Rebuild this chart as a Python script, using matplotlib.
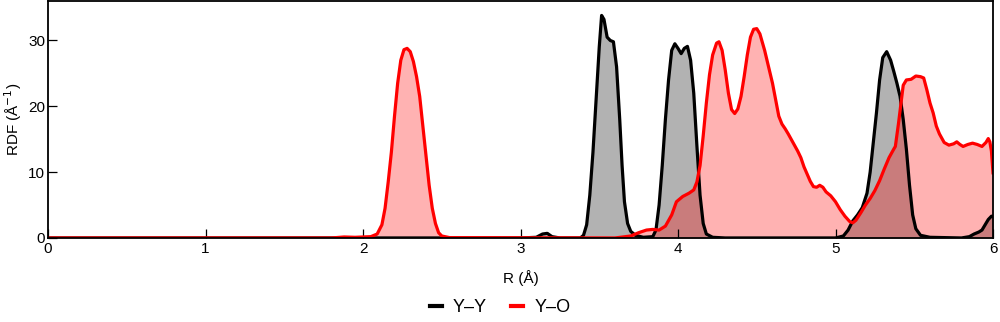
import numpy as np
import matplotlib
matplotlib.use("Agg")
import matplotlib.pyplot as plt

plt.rcParams["font.family"] = ["Liberation Sans", "DejaVu Sans"]

# =========================
# Data
# =========================
r_yo = [0.0, 1.80, 1.88, 1.95, 2.05, 2.09, 2.12, 2.14, 2.16, 2.18, 2.20, 2.22, 2.24, 2.26,
        2.28, 2.30, 2.32, 2.34, 2.36, 2.38, 2.40, 2.42, 2.44, 2.46, 2.48, 2.50, 2.55, 3.60,
        3.70, 3.75, 3.80, 3.84, 3.88, 3.92, 3.96, 3.99, 4.03, 4.07, 4.10, 4.12, 4.14, 4.16,
        4.18, 4.20, 4.22, 4.245, 4.26, 4.28, 4.30, 4.32, 4.34, 4.36, 4.38, 4.40, 4.42, 4.44,
        4.46, 4.48, 4.50, 4.52, 4.55, 4.58, 4.60, 4.62, 4.64, 4.66, 4.68, 4.70, 4.73, 4.76,
        4.78, 4.80, 4.82, 4.84, 4.86, 4.88, 4.90, 4.92, 4.94, 4.97, 5.00, 5.03, 5.06, 5.09,
        5.11, 5.13, 5.16, 5.19, 5.22, 5.25, 5.28, 5.31, 5.34, 5.37, 5.38, 5.40, 5.43, 5.45,
        5.48, 5.51, 5.54, 5.56, 5.58, 5.60, 5.62, 5.64, 5.66, 5.69, 5.72, 5.75, 5.77, 5.79,
        5.81, 5.84, 5.87, 5.90, 5.93, 5.955, 5.97, 5.98, 5.99, 6.00]
g_yo = [0.0, 0.0, 0.15, 0.1, 0.2, 0.6, 2.0, 4.5, 8.5, 13.0, 18.5, 23.5, 27.0, 28.6,
        28.8, 28.3, 26.8, 24.5, 21.5, 17.0, 12.5, 8.0, 4.5, 2.2, 0.8, 0.3, 0.05, 0.0,
        0.3, 0.8, 1.2, 1.3, 1.2, 1.8, 3.5, 5.5, 6.3, 6.8, 7.3, 8.5, 11.0, 15.5,
        20.5, 24.8, 27.8, 29.6, 29.8, 28.5, 25.5, 22.0, 19.5, 18.9, 19.6, 21.5, 24.5, 27.8,
        30.5, 31.7, 31.8, 31.0, 28.5, 25.5, 23.5, 21.0, 18.5, 17.3, 16.6, 15.8, 14.5, 13.2,
        12.2, 10.8, 9.7, 8.6, 7.8, 7.7, 8.0, 7.7, 7.0, 6.4, 5.5, 4.3, 3.3, 2.5,
        2.3, 2.7, 3.8, 5.0, 6.0, 7.2, 8.7, 10.5, 12.2, 13.5, 13.9, 17.4, 23.2, 24.0,
        24.1, 24.6, 24.5, 24.3, 22.5, 20.5, 19.0, 17.0, 15.8, 14.5, 14.1, 14.3, 14.6, 14.2,
        13.9, 14.2, 14.4, 14.2, 13.9, 14.5, 15.1, 14.6, 13.2, 9.9]

r_yy = [0.0, 3.00, 3.10, 3.14, 3.17, 3.20, 3.25, 3.38, 3.40, 3.42, 3.44, 3.46, 3.48, 3.50,
        3.515, 3.53, 3.55, 3.57, 3.59, 3.61, 3.63, 3.645, 3.66, 3.68, 3.70, 3.73, 3.78, 3.84,
        3.86, 3.88, 3.90, 3.92, 3.94, 3.96, 3.98, 4.00, 4.02, 4.04, 4.06, 4.08, 4.10, 4.12,
        4.14, 4.16, 4.18, 4.22, 4.30, 5.00, 5.05, 5.08, 5.11, 5.14, 5.17, 5.20, 5.22, 5.24,
        5.26, 5.28, 5.30, 5.325, 5.35, 5.37, 5.39, 5.41, 5.43, 5.45, 5.47, 5.49, 5.51, 5.54,
        5.60, 5.80, 5.85, 5.88, 5.91, 5.93, 5.95, 5.97, 5.99, 6.00]
g_yy = [0.0, 0.0, 0.1, 0.6, 0.7, 0.2, 0.0, 0.0, 0.4, 2.0, 6.5, 13.0, 21.0, 29.0,
        33.8, 33.2, 30.5, 30.0, 29.8, 26.0, 18.0, 11.0, 5.5, 2.2, 1.0, 0.4, 0.1, 0.2,
        1.2, 5.0, 11.0, 18.0, 24.0, 28.5, 29.5, 28.8, 28.0, 28.8, 29.1, 27.0, 22.0, 14.0,
        6.5, 2.2, 0.6, 0.1, 0.0, 0.0, 0.3, 1.2, 2.6, 3.5, 4.6, 6.8, 10.0, 14.5,
        19.0, 24.0, 27.4, 28.3, 27.0, 25.3, 23.5, 21.5, 18.0, 13.5, 8.0, 3.5, 1.4, 0.4,
        0.1, 0.0, 0.2, 0.6, 0.9, 1.2, 2.0, 2.8, 3.3, 3.3]

labels = ["Y\u2013Y", "Y\u2013O"]

# =========================
# Plot
# =========================
fig = plt.figure(figsize=(10, 3.22), dpi=100)
ax = fig.add_axes([0.048, 0.261, 0.945, 0.736])

ax.fill_between(r_yy, g_yy, 0, color="black", alpha=0.3, lw=0)
ax.plot(r_yy, g_yy, color="black", lw=2.3, label=labels[0], solid_joinstyle="round")
ax.fill_between(r_yo, g_yo, 0, color="red", alpha=0.3, lw=0)
ax.plot(r_yo, g_yo, color="red", lw=2.3, label=labels[1], solid_joinstyle="round")

ax.set_xlim(0, 6)
ax.set_ylim(0, 36)
ax.set_xticks([0, 1, 2, 3, 4, 5, 6])
ax.set_yticks([0, 10, 20, 30])
ax.tick_params(direction="in", length=6.5, width=0.9, labelsize=11, pad=2,
               top=False, right=False)
ax.tick_params(axis="x", pad=3)
for s in ax.spines.values():
    s.set_linewidth(1.3)

ax.set_xlabel("R (\u00c5)", fontsize=11, labelpad=10)
ax.set_ylabel("RDF (\u00c5$^{-1}$)", fontsize=11, labelpad=3)

leg = fig.legend(loc="center", bbox_to_anchor=(0.5, 0.045), ncol=2, frameon=False,
                 fontsize=13, handlelength=0.7, columnspacing=1.3, handletextpad=0.6)
for h in leg.get_lines():
    h.set_linewidth(3)

fig.savefig("out.png", dpi=100)
